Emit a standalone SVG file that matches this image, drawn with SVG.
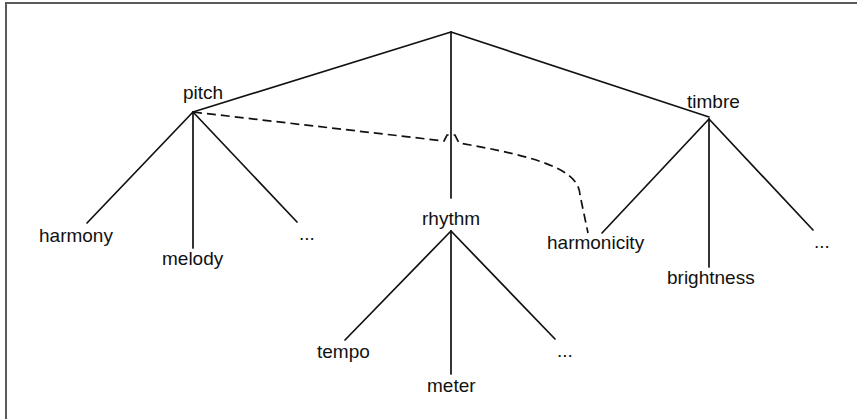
<svg xmlns="http://www.w3.org/2000/svg" width="857" height="419" viewBox="0 0 857 419">
  <style>
    .frame { stroke: #5a5a5a; stroke-width: 2; fill: none; }
    .edge { stroke: #111; stroke-width: 1.7; fill: none; stroke-linecap: round; }
    .link { stroke: #111; stroke-width: 1.7; fill: none; stroke-dasharray: 9 5; }
    .label { font-family: "Liberation Sans", Arial, sans-serif; font-size: 19px; fill: #111; }
  </style>
  <rect width="857" height="419" fill="#fff"/>
  <!-- frame: top and left rule only -->
  <path class="frame" d="M6,419 L6,3 L857,3"/>

  <g id="connectors">
    <!-- root to facets -->
    <line class="edge" x1="451" y1="32" x2="193" y2="112"/>
    <line class="edge" x1="451" y1="32" x2="451" y2="198"/>
    <line class="edge" x1="451" y1="32" x2="709" y2="117"/>
    <!-- pitch children -->
    <line class="edge" x1="193" y1="112" x2="87" y2="223"/>
    <line class="edge" x1="193" y1="112" x2="193" y2="248"/>
    <line class="edge" x1="193" y1="112" x2="297" y2="222"/>
    <!-- rhythm children -->
    <line class="edge" x1="451" y1="231" x2="345" y2="340"/>
    <line class="edge" x1="451" y1="231" x2="451" y2="374"/>
    <line class="edge" x1="451" y1="231" x2="555" y2="339"/>
    <!-- timbre children -->
    <line class="edge" x1="709" y1="119" x2="602" y2="233"/>
    <line class="edge" x1="709" y1="119" x2="709" y2="267"/>
    <line class="edge" x1="709" y1="119" x2="813" y2="230"/>
    <!-- cross link pitch to harmonicity, with a jump over the rhythm stem -->
    <path class="link" d="M193,112 L444,141 L447,135 L455,135 L459,143 C540,157 579,170 580,195 L588,233"/>
  </g>

  <g id="pitch"><text class="label" x="183" y="99">pitch</text></g>
  <g id="rhythm"><text class="label" x="422" y="225">rhythm</text></g>
  <g id="timbre"><text class="label" x="687" y="108">timbre</text></g>

  <g id="harmony"><text class="label" x="39" y="242">harmony</text></g>
  <g id="melody"><text class="label" x="162" y="265">melody</text></g>
  <g id="pitch-more"><text class="label" x="299" y="240">...</text></g>

  <g id="tempo"><text class="label" x="317" y="358">tempo</text></g>
  <g id="meter"><text class="label" x="427" y="392">meter</text></g>
  <g id="rhythm-more"><text class="label" x="557" y="357">...</text></g>

  <g id="harmonicity"><text class="label" x="547" y="249">harmonicity</text></g>
  <g id="brightness"><text class="label" x="667" y="284">brightness</text></g>
  <g id="timbre-more"><text class="label" x="814" y="248">...</text></g>
</svg>
